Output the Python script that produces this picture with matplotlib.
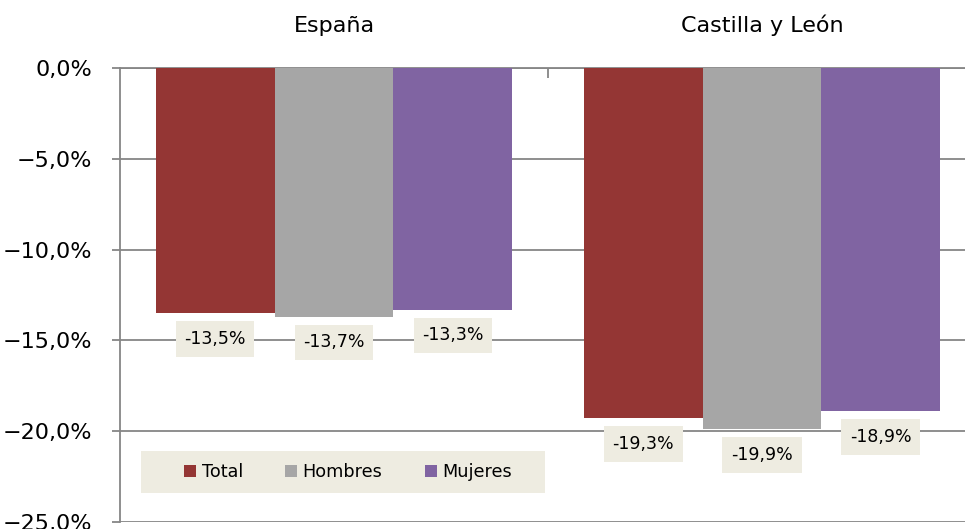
import numpy as np
import matplotlib.pyplot as plt
from matplotlib.patches import Rectangle
from matplotlib.ticker import FuncFormatter

# Datos
regiones = ['España', 'Castilla y León']
series = ['Total', 'Hombres', 'Mujeres']
total = [-13.5, -19.3]
hombres = [-13.7, -19.9]
mujeres = [-13.3, -18.9]
colores = ['#943634', '#A6A6A6', '#8064A2']

valores = [total, hombres, mujeres]

fig = plt.figure(figsize=(9.65, 5.29), dpi=100)
ax = fig.add_axes([120 / 965, 1 - 522 / 529, 856 / 965, 454 / 529])

x = np.arange(len(regiones))
ancho = 0.278
for i, (nombre, vals, col) in enumerate(zip(series, valores, colores)):
    pos = x + (i - 1) * ancho
    ax.bar(pos, vals, width=ancho, color=col, label=nombre, zorder=3)
    for p, v in zip(pos, vals):
        ax.annotate(f'{v:.1f}%'.replace('.', ','), (p, v), xytext=(0, -12),
                    textcoords='offset points', ha='center', va='top',
                    fontsize=12.5, zorder=5,
                    bbox=dict(boxstyle='square,pad=0.5', fc='#EEECE1', ec='none'))

ax.set_xlim(-0.5, 1.5)
ax.set_ylim(-25, 0)
ax.set_yticks(np.arange(-25, 1, 5))
ax.yaxis.set_major_formatter(FuncFormatter(
    lambda v, _: f'{v:.1f}%'.replace('.', ',').replace('-', '\u2212')))
ax.yaxis.grid(True, color='#868686', lw=1.3, zorder=0)
ax.tick_params(axis='y', labelsize=16, length=6, width=1.3, color='#868686', pad=14)

# eje x arriba
ax.xaxis.tick_top()
ax.set_xticks(x)
ax.set_xticklabels(regiones, fontsize=16)
ax.set_xticks([0.5], minor=True)
ax.tick_params(axis='x', which='major', length=0, pad=23)
ax.tick_params(axis='x', which='minor', direction='in', length=7, width=1.3, color='#868686')

for lado in ['right', 'bottom']:
    ax.spines[lado].set_visible(False)
for lado in ['left', 'top']:
    ax.spines[lado].set_color('#868686')
    ax.spines[lado].set_linewidth(1.3)

# fondo de la leyenda
fondo = Rectangle((141 / 965, 1 - 493 / 529), 404 / 965, 42 / 529,
                  transform=fig.transFigure, fc='#EEECE1', ec='none',
                  zorder=5, clip_on=False)
ax.add_patch(fondo)

leg = ax.legend(ncols=3, loc='center', bbox_to_anchor=(348 / 965, 1 - 472 / 529),
                bbox_transform=fig.transFigure, fontsize=12.7, frameon=False,
                handlelength=0.68, handleheight=0.68,
                handletextpad=0.3, columnspacing=2.4, borderpad=0.3)
leg.set_zorder(6)

plt.savefig('out.png', dpi=100)
